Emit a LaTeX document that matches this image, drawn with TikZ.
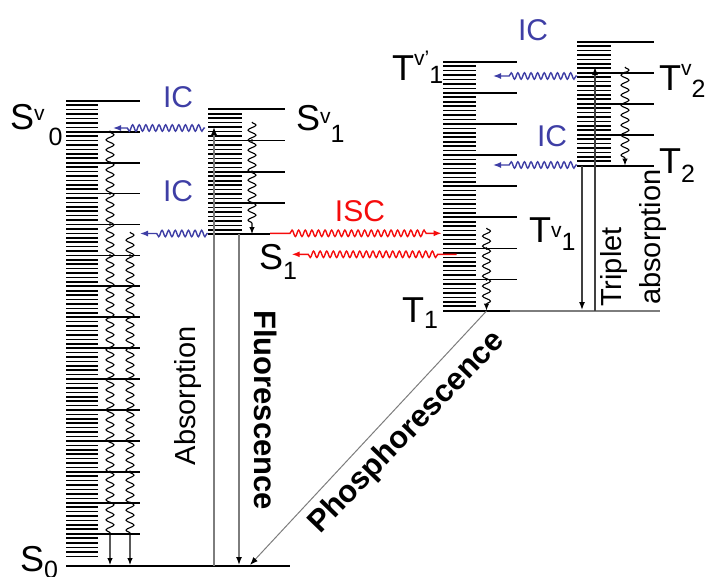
\documentclass[tikz,border=0pt]{standalone}
\usepackage{fontspec}
\setmainfont{Liberation Sans}
\usetikzlibrary{decorations.pathmorphing,arrows.meta}
\definecolor{icblue}{RGB}{62,62,165}
\definecolor{iscred}{RGB}{245,12,12}
\definecolor{trgray}{RGB}{125,125,125}
\newcommand\fs[1]{\fontsize{#1}{#1}\selectfont}
\newcommand\Up[2]{\raisebox{#1pt}{\fs{21}#2}}
\newcommand\Dn[2]{\raisebox{#1pt}{\fs{25}#2}}
\begin{document}
\begin{tikzpicture}[x=1pt,y=-1pt,
  lvl/.style={line width=1.8pt},
  rung/.style={line width=1.6pt},
  wig/.style={line width=1.1pt,decorate,decoration={snake,amplitude=4pt,segment length=10pt,post length=#1}},
  wig/.default=6pt,
  tip/.style={-{Latex[length=7pt,width=5.5pt]}},
  icw/.style={icblue,line width=1.4pt,-{Latex[length=8pt,width=6pt]},decorate,
    decoration={snake,amplitude=3.2pt,segment length=6.6pt,pre length=1pt,post length=14pt}},
  iscw/.style={iscred,line width=1.4pt,-{Latex[length=8pt,width=6pt]},decorate,
    decoration={snake,amplitude=3.2pt,segment length=6.6pt,pre length=#1,post length=14pt}},
  gline/.style={trgray,line width=1.4pt,-{Latex[length=8pt,width=6pt,color=black]}},
  lbl/.style={inner sep=0pt,anchor=base west,font=\fs{36}},
  icl/.style={text=icblue,font=\fs{30},inner sep=0pt},
  dot/.style={fill=black}]
\useasboundingbox (0,0) rectangle (707,576);

% ---------- S0 manifold ----------
\foreach \k in {0,...,13}{
  \foreach \i in {1,...,6}{
    \draw[rung] (66,{100.8+30.92*\k+4.417*\i}) -- (98,{100.8+30.92*\k+4.417*\i});}}
\foreach \i in {1,...,5}
  \draw[rung] (66,{533.7+4.57*\i}) -- (98,{533.7+4.57*\i});
\foreach \k in {0,...,14}
  \draw[lvl] (66,{100.8+30.92*\k}) -- (140,{100.8+30.92*\k});
\coordinate (S0l) at (66,565.7);
\coordinate (S0r) at (290,565.7);
\draw[lvl] (S0l) -- (S0r);

% ---------- S1 manifold ----------
\foreach \k in {0,...,3}{
  \foreach \i in {1,...,6}{
    \draw[rung] (208,{109.3+31.25*\k+4.464*\i}) -- (242,{109.3+31.25*\k+4.464*\i});}}
\foreach \k in {0,...,3}
  \draw[lvl] (208,{109.3+31.25*\k}) -- (285,{109.3+31.25*\k});
\coordinate (S1l) at (208,234.3);
\coordinate (S1r) at (270,234.3);
\draw[lvl] (S1l) -- (S1r);

% ---------- T1 manifold ----------
\foreach \k in {0,...,7}{
  \foreach \i in {1,...,6}{
    \draw[rung] (443,{61.7+31.125*\k+4.446*\i}) -- (476,{61.7+31.125*\k+4.446*\i});}}
\foreach \k in {0,...,7}
  \draw[lvl] (443,{61.7+31.125*\k}) -- (517,{61.7+31.125*\k});
\coordinate (T1l) at (443,310.7);
\coordinate (T1m) at (510,310.7);
\coordinate (T1r) at (660,310.7);
\draw[lvl] (T1l) -- (T1m);
\draw[lvl,trgray] (T1m) -- (T1r);

% ---------- T2 manifold ----------
\foreach \k in {0,...,3}{
  \foreach \i in {1,...,6}{
    \draw[rung] (577,{41.7+31*\k+4.43*\i}) -- (611,{41.7+31*\k+4.43*\i});}}
\foreach \k in {0,...,3}
  \draw[lvl] (577,{41.7+31*\k}) -- (654,{41.7+31*\k});
\coordinate (T2l) at (577,165.7);
\coordinate (T2r) at (654,165.7);
\draw[lvl] (T2l) -- (T2r);

% ---------- vibrational relaxation ----------
\coordinate (vrA1) at (110,131.7); \coordinate (vrA2) at (110,565);
\coordinate (vrB1) at (130,232);   \coordinate (vrB2) at (130,565);
\coordinate (vrC1) at (252,122);   \coordinate (vrC2) at (252,234);
\coordinate (vrD1) at (625,67);    \coordinate (vrD2) at (625,165.5);
\coordinate (vrE1) at (486.5,228); \coordinate (vrE2) at (486.5,310.5);
\draw[wig=28pt,tip] (vrA1) -- (vrA2);
\draw[wig=28pt,tip] (vrB1) -- (vrB2);
\draw[wig,tip] (vrC1) -- (vrC2);
\draw[wig,tip] (vrD1) -- (vrD2);
\draw[wig,tip] (vrE1) -- (vrE2);
\foreach \k in {1,...,14} \fill[dot] (110,{100.8+30.92*\k}) circle[radius=1.4pt];
\foreach \k in {5,...,14} \fill[dot] (130,{100.8+30.92*\k}) circle[radius=1.4pt];
\foreach \k in {1,...,3} \fill[dot] (252,{109.3+31.25*\k}) circle[radius=1.4pt];
\foreach \k in {1,...,3} \fill[dot] (625,{41.7+31*\k}) circle[radius=1.4pt];
\foreach \k in {6,7} \fill[dot] (486.5,{61.7+31.125*\k}) circle[radius=1.4pt];

% ---------- internal conversion ----------
\coordinate (ica1) at (205,128);   \coordinate (ica2) at (113,128);
\coordinate (icb1) at (208,233.5); \coordinate (icb2) at (140,233.5);
\coordinate (icc1) at (577,76);    \coordinate (icc2) at (493,76);
\coordinate (icd1) at (577,165);   \coordinate (icd2) at (493,165);
\draw[icw] (ica1) -- (ica2);
\draw[icw] (icb1) -- (icb2);
\draw[icw] (icc1) -- (icc2);
\draw[icw] (icd1) -- (icd2);
\node[icl] (ic1) at (178,97) {IC};
\node[icl] (ic2) at (178,191) {IC};
\node[icl] (ic3) at (533,30) {IC};
\node[icl] (ic4) at (552,136) {IC};

% ---------- intersystem crossing ----------
\coordinate (isa1) at (270,233.3);   \coordinate (isa2) at (441.7,233.3);
\coordinate (isb1) at (456.7,254.3); \coordinate (isb2) at (291.7,254.3);
\draw[iscw=20pt] (isa1) -- (isa2);
\draw[iscw=19pt] (isb1) -- (isb2);
\node[text=iscred,font=\fs{30},inner sep=0pt] (isc) at (360,211) {ISC};

% ---------- radiative transitions ----------
\coordinate (ab1) at (214,565.7);  \coordinate (ab2) at (214,127);
\coordinate (fl1) at (239,234.3);  \coordinate (fl2) at (239,565);
\coordinate (ph1) at (486.5,311);  \coordinate (ph2) at (250,565);
\coordinate (td1) at (582,165.7);  \coordinate (td2) at (582,310);
\coordinate (tu1) at (595,310.7);  \coordinate (tu2) at (595,67);
\draw[gline] (ab1) -- (ab2);
\draw[gline] (fl1) -- (fl2);
\draw[gline,line width=1pt] (ph1) -- (ph2);
\draw[gline,black!75] (td1) -- (td2);
\draw[gline,black!75] (tu1) -- (tu2);

\node[rotate=90,font=\fs{29}] (abs) at (187.5,396) {Absorption};
\node[rotate=-90,font=\bfseries\fs{31}] (flu) at (266,410) {Fluorescence};
\node[rotate=46,font=\bfseries\fs{31}] (pho) at (407,433) {Phosphorescence};
\node[rotate=90,font=\fs{29},anchor=west,inner sep=0pt] (trp) at (614,307) {Triplet};
\node[rotate=90,font=\fs{29},anchor=west,inner sep=0pt] (trabs) at (653,305) {absorption};

% ---------- state labels ----------
\node[lbl] (Sv0) at (10,129) {S\Up{9}{v}\kern4pt\Dn{-16}{0}};
\node[lbl] (Sv1) at (296,130) {S\Up{7}{v}\Dn{-12}{1}};
\node[lbl] (S1) at (259,269) {S\Dn{-10}{1}};
\node[lbl] (S0) at (20,571) {S\Dn{-7}{0}};
\node[lbl] (T1) at (402,322) {T\Dn{-6}{1}};
\node[lbl] (Tv1) at (529,242) {T\Up{5}{v}\Dn{-8}{1}};
\node[lbl] (Tvp1) at (392,80) {T\Up{15}{v'}\Dn{-3}{1}};
\node[lbl] (Tv2) at (659,90) {T\Up{15}{v}\Dn{-7}{2}};
\node[lbl] (T2) at (659,173) {T\Dn{-9}{2}};
\end{tikzpicture}
\end{document}
